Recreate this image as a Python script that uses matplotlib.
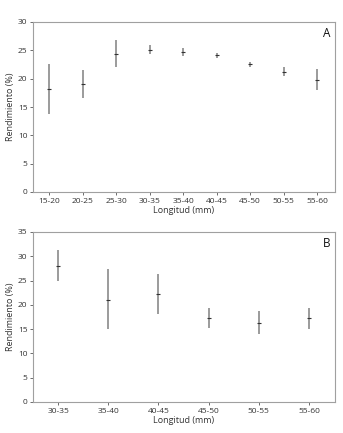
import matplotlib
matplotlib.use("Agg")
import matplotlib.pyplot as plt
import numpy as np

plt.rcParams['font.family'] = ['Open Sans', 'DejaVu Sans']

cats_a = ["15-20", "20-25", "25-30", "30-35", "35-40", "40-45", "45-50", "50-55", "55-60"]
mean_a = [18.1, 19.0, 24.4, 25.1, 24.7, 24.1, 22.5, 21.2, 19.8]
low_a = [13.8, 16.5, 22.0, 24.3, 24.0, 23.6, 22.0, 20.4, 18.0]
high_a = [22.6, 21.6, 26.8, 25.9, 25.4, 24.6, 23.0, 22.1, 21.7]

cats_b = ["30-35", "35-40", "40-45", "45-50", "50-55", "55-60"]
mean_b = [28.0, 21.0, 22.2, 17.2, 16.2, 17.2]
low_b = [24.9, 15.0, 18.1, 15.2, 13.9, 15.1]
high_b = [31.2, 27.3, 26.3, 19.3, 18.7, 19.4]

fig = plt.figure(figsize=(3.43, 4.33), dpi=100)
W, H = 343, 433
axA = fig.add_axes([33 / W, 1 - 192 / H, (335 - 33) / W, (192 - 22) / H])
axB = fig.add_axes([33 / W, 1 - 402 / H, (335 - 33) / W, (402 - 232) / H])

txt = '#333333'
for ax, cats, m, lo, hi, ymax, lab, xl in [
    (axA, cats_a, mean_a, low_a, high_a, 30, 'A', (-0.48, 8.53)),
    (axB, cats_b, mean_b, low_b, high_b, 35, 'B', (-0.5, 5.52)),
]:
    x = np.arange(len(cats))
    m = np.array(m); lo = np.array(lo); hi = np.array(hi)
    ax.vlines(x, lo, hi, color='#8a8a8a', lw=1.2)
    ax.plot(x, m, linestyle='none', marker='_', ms=3, mew=0.8, color='#333333')
    ax.set_xlim(*xl)
    ax.set_ylim(0, ymax)
    ax.set_yticks(np.arange(0, ymax + 1, 5))
    ax.set_xticks(x)
    ax.set_xticklabels(cats)
    ax.tick_params(labelsize=6, colors=txt, length=2, width=0.5, pad=2)
    for s in ax.spines.values():
        s.set_color('#a0a0a0')
        s.set_linewidth(0.8)
    ax.set_ylabel('Rendimiento (%)', fontsize=6.5, color=txt, labelpad=2)
    ax.set_xlabel('Longitud (mm)', fontsize=6.5, color=txt, labelpad=1)
    ax.text(0.985, 0.97, lab, transform=ax.transAxes, ha='right', va='top',
            fontsize=8.5, color='#111111')

fig.savefig('out.png', dpi=100)
